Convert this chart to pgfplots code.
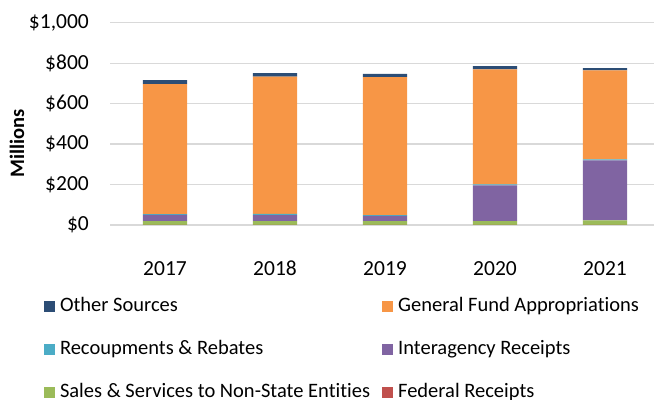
\documentclass[border=0pt]{standalone}
\usepackage{pgfplots}
\pgfplotsset{compat=1.18}
\usepackage{fontspec}
\setmainfont{Carlito}[Ligatures=NoCommon]
\definecolor{cother}{HTML}{2C4D75}
\definecolor{cgen}{HTML}{F79646}
\definecolor{crec}{HTML}{4BACC6}
\definecolor{cinter}{HTML}{8064A2}
\definecolor{csales}{HTML}{9BBB59}
\definecolor{cfed}{HTML}{C0504D}
\definecolor{gridgray}{HTML}{D9D9D9}
\pgfplotstableread{
x fed sales inter recoup gen other
0 1 18 31 4 642 20
1 1 18 30 6 678 18
2 1 18 26.5 3.5 682 16
3 1 18 177 5 568 16
4 1 22 296 5 440 12
}\data
\begin{document}
\fontsize{20.5bp}{24bp}\selectfont
\begin{tikzpicture}
\useasboundingbox (0,0) rectangle (654bp,400bp);
\begin{axis}[
 at={(110bp,175bp)}, anchor=south west,
 scale only axis, width=550bp, height=202.3bp,
 ybar stacked, bar width=44bp,
 xmin=-0.5, xmax=4.5, ymin=0, ymax=1000,
 xtick={0,1,2,3,4}, xticklabels={2017,2018,2019,2020,2021},
 ytick={0,200,400,600,800,1000}, yticklabels={\$0,\$200,\$400,\$600,\$800,{\$1,000}},
 /pgf/number format/assume math mode=true,
 major tick length=0pt,
 axis line style={draw=none},
 ymajorgrids, grid style={draw=gridgray, line width=1.2bp},
 tick label style={font=\fontsize{21.5bp}{25bp}\selectfont},
 xticklabel style={inner sep=0pt, anchor=north, yshift=-36bp},
 yticklabel style={inner sep=0pt, anchor=east, xshift=-21bp},
 ylabel={\textbf{Millions}},
 ylabel style={at={(axis description cs:-0.169,0.405)}, anchor=center},
 legend columns=2,
 legend cell align=left,
 reverse legend,
 legend image code/.code={\fill[#1] (0bp,-5.5bp) rectangle (11bp,5.5bp);},
 legend style={at={(axis description cs:-0.12,-0.359)}, anchor=north west,
   draw=none, fill=none, inner sep=0pt, outer sep=0pt, row sep=25bp,
   nodes={inner sep=0pt, text height=14bp, text depth=4bp},
   /tikz/every odd column/.append style={column sep=5bp},
   /tikz/every even column/.append style={column sep=12bp}},
]
\addplot[fill=cfed, draw=none] table[x=x, y=fed] {\data};
\addlegendentry{Federal Receipts}
\addplot[fill=csales, draw=none] table[x=x, y=sales] {\data};
\addlegendentry{Sales \& Services to Non-State Entities}
\addplot[fill=cinter, draw=none] table[x=x, y=inter] {\data};
\addlegendentry{Interagency Receipts}
\addplot[fill=crec, draw=none] table[x=x, y=recoup] {\data};
\addlegendentry{Recoupments \& Rebates}
\addplot[fill=cgen, draw=none] table[x=x, y=gen] {\data};
\addlegendentry{General Fund Appropriations}
\addplot[fill=cother, draw=none] table[x=x, y=other] {\data};
\addlegendentry{Other Sources}
\end{axis}
\end{tikzpicture}
\end{document}
